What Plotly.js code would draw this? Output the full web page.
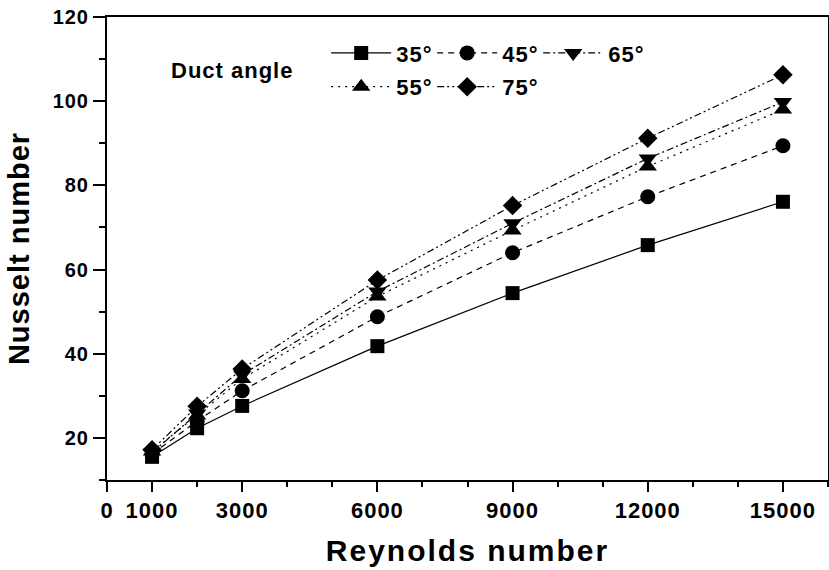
<!DOCTYPE html>
<html>
<head>
<meta charset="utf-8">
<script src="https://cdn.plot.ly/plotly-3.0.1.min.js"></script>
<style>
html,body{margin:0;padding:0;background:#fff;}
#chart{width:829px;height:570px;}
.main-svg text{letter-spacing:1px;}
.main-svg text.xtitle{letter-spacing:2px;}
</style>
</head>
<body>
<div id="chart"></div>
<script>
// Data
const reynolds = [1000, 2000, 3000, 6000, 9000, 12000, 15000];
const nu35 = [15.5, 22.3, 27.6, 41.8, 54.4, 65.8, 76.1];
const nu45 = [16.2, 24.0, 31.2, 48.8, 64.0, 77.3, 89.4];
const nu55 = [16.8, 25.3, 34.0, 53.6, 69.3, 84.5, 98.0];
const nu65 = [16.5, 25.8, 35.0, 54.8, 71.0, 86.4, 99.8];
const nu75 = [17.2, 27.5, 36.4, 57.5, 75.2, 91.2, 106.3];
const seriesNames = ['35°', '45°', '55°', '65°', '75°'];
const xTickVals = [0, 1000, 3000, 6000, 9000, 12000, 15000];
const xTickText = ['0', '1000', '3000', '6000', '9000', '12000', '15000'];
const yTickVals = [20, 40, 60, 80, 100, 120];

const font = 'Liberation Sans, Arial, sans-serif';
function tr(y, name, symbol, size, dash, legend){
  return {
    x: reynolds, y: y, name: name, type: 'scatter', mode: 'lines+markers',
    line: {color: '#000', width: 1.2, dash: dash},
    marker: {symbol: symbol, size: size, color: '#000'},
    legend: legend
  };
}
const data = [
  tr(nu35, seriesNames[0], 'square', 14, 'solid', 'legend'),
  tr(nu45, seriesNames[1], 'circle', 15, '6px,5px', 'legend'),
  tr(nu65, seriesNames[3], 'triangle-down', 16, '7px,3px,2px,3px', 'legend'),
  tr(nu55, seriesNames[2], 'triangle-up', 16, '2px,5px', 'legend2'),
  tr(nu75, seriesNames[4], 'diamond', 15, '7px,3px,2px,3px,2px,3px', 'legend2')
];

const legendCommon = {
  orientation: 'h', xanchor: 'left', yanchor: 'middle',
  font: {family: font, size: 22, color: '#000', weight: 'bold'},
  bgcolor: 'rgba(0,0,0,0)', borderwidth: 0,
  entrywidth: 31, entrywidthmode: 'pixels', itemwidth: 60,
  tracegroupgap: 0
};

const layout = {
  width: 829, height: 570,
  margin: {l: 107, r: 1, t: 17, b: 90},
  paper_bgcolor: '#fff', plot_bgcolor: '#fff',
  font: {family: font, color: '#000'},
  showlegend: true,
  legend: Object.assign({}, legendCommon, {x: 0.304, y: 0.922}),
  legend2: Object.assign({}, legendCommon, {x: 0.304, y: 0.849}),
  xaxis: {
    range: [0, 16000],
    tickmode: 'array', tickvals: xTickVals, ticktext: xTickText,
    ticks: 'outside', ticklen: 10, tickwidth: 2, tickcolor: '#000',
    minor: {dtick: 1000, tick0: 0, ticks: 'outside', ticklen: 5, tickwidth: 2, tickcolor: '#000'},
    showline: true, linewidth: 2, linecolor: '#000', mirror: true,
    showgrid: false, zeroline: false,
    tickfont: {family: font, size: 22, weight: 'bold', color: '#000'},
    title: {text: 'Reynolds number', font: {family: font, size: 30, weight: 'bold', color: '#000'}, standoff: 18}
  },
  yaxis: {
    range: [10, 120],
    tickmode: 'array', tickvals: yTickVals,
    ticks: 'outside', ticklen: 12, tickwidth: 2, tickcolor: '#000',
    minor: {dtick: 10, tick0: 0, ticks: 'outside', ticklen: 6, tickwidth: 2, tickcolor: '#000'},
    showline: true, linewidth: 2, linecolor: '#000', mirror: true,
    showgrid: false, zeroline: false,
    tickfont: {family: font, size: 20, weight: 'bold', color: '#000'},
    title: {text: 'Nusselt number', font: {family: font, size: 29, weight: 'bold', color: '#000'}, standoff: 17}
  },
  annotations: [{
    text: 'Duct angle', xref: 'paper', yref: 'paper',
    x: (174 - 107) / 721, y: (480 - 70) / 463, xanchor: 'left', yanchor: 'middle',
    showarrow: false, font: {family: font, size: 22, weight: 'bold', color: '#000'}
  }]
};

Plotly.newPlot('chart', data, layout, {displayModeBar: false, staticPlot: true});
</script>
</body>
</html>
